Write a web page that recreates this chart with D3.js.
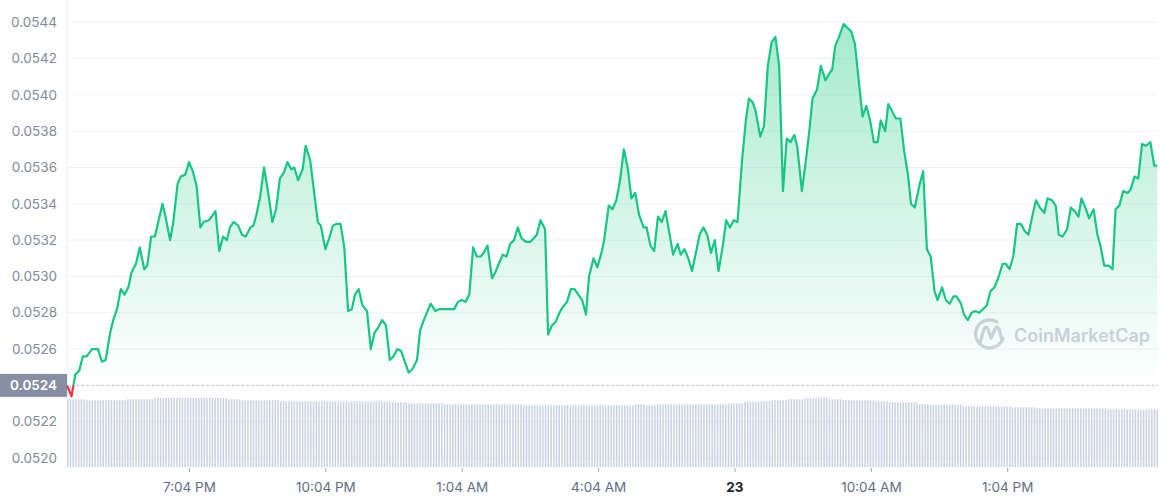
<!DOCTYPE html>
<html>
<head>
<meta charset="utf-8">
<script src="https://cdn.jsdelivr.net/npm/d3@7"></script>
<style>
	html, body { margin: 0; padding: 0; background: #fff; }
	#chart { width: 1160px; height: 500px; }
	text { font-family: Inter, "Noto Sans", sans-serif; }
</style>
</head>
<body>
<div id="chart"></div>
<script>
// minutes since the first sample (about 4:23 PM on the 22nd)
const minutes = [
	0, 6, 11, 16, 21, 26, 33, 41, 46, 51, 57, 61, 66, 71, 76, 81, 85, 91, 96, 102,
	106, 111, 116, 126, 130, 136, 140, 146, 150, 156, 161, 166, 171, 176, 180, 187, 191, 196, 201, 206,
	211, 215, 220, 226, 231, 236, 242, 246, 250, 255, 260, 266, 271, 276, 281, 286, 291, 296, 300, 305,
	311, 315, 321, 326, 331, 335, 341, 346, 351, 356, 361, 366, 371, 376, 380, 385, 390, 396, 401, 406,
	411, 416, 421, 426, 431, 436, 441, 446, 451, 456, 462, 466, 470, 476, 480, 486, 491, 496, 501, 506,
	511, 516, 521, 526, 531, 536, 541, 546, 550, 555, 561, 565, 570, 575, 580, 585, 590, 595, 600, 606,
	611, 616, 620, 625, 631, 635, 640, 645, 650, 654, 660, 665, 670, 675, 680, 685, 689, 695, 700, 706,
	709, 715, 720, 725, 730, 735, 740, 745, 750, 755, 761, 765, 770, 775, 780, 785, 790, 795, 800, 806,
	810, 815, 820, 825, 830, 835, 840, 845, 850, 855, 860, 866, 870, 875, 880, 885, 891, 896, 900, 905,
	909, 915, 920, 925, 930, 935, 940, 945, 950, 955, 960, 964, 970, 975, 980, 984, 990, 995, 1001, 1005,
	1010, 1014, 1019, 1025, 1030, 1035, 1040, 1045, 1050, 1055, 1060, 1065, 1070, 1074, 1080, 1084, 1089, 1094, 1100, 1105,
	1110, 1114, 1119, 1125, 1130, 1135, 1140, 1145, 1149, 1155, 1160, 1165, 1170, 1174, 1180, 1184, 1189, 1194, 1199, 1204,
	1209, 1214, 1219, 1224, 1229, 1235, 1239, 1244, 1249, 1254, 1259, 1264, 1269, 1274, 1279, 1284, 1290, 1294, 1300, 1305,
	1309, 1314, 1320, 1325, 1330, 1335, 1339, 1345, 1349, 1355, 1360, 1364, 1369, 1375, 1380, 1384, 1389, 1394, 1400, 1404,
	1409, 1414, 1419, 1424, 1430, 1435, 1439
];

// price in USD
const prices = [
	0.05240, 0.05234, 0.05246, 0.05248, 0.05256, 0.05256, 0.05260, 0.05260, 0.05253, 0.05254, 0.05269, 0.05276, 0.05282, 0.05293, 0.05290, 0.05294, 0.05302, 0.05307, 0.05316, 0.05304,
	0.05306, 0.05322, 0.05322, 0.05340, 0.05333, 0.05320, 0.05329, 0.05351, 0.05355, 0.05356, 0.05363, 0.05358, 0.05350, 0.05327, 0.05330, 0.05331, 0.05333, 0.05336, 0.05314, 0.05322,
	0.05320, 0.05327, 0.05330, 0.05328, 0.05323, 0.05322, 0.05327, 0.05328, 0.05334, 0.05344, 0.05360, 0.05345, 0.05330, 0.05337, 0.05354, 0.05357, 0.05363, 0.05359, 0.05360, 0.05353,
	0.05359, 0.05372, 0.05364, 0.05347, 0.05330, 0.05328, 0.05315, 0.05321, 0.05328, 0.05329, 0.05329, 0.05316, 0.05281, 0.05282, 0.05290, 0.05293, 0.05284, 0.05281, 0.05260, 0.05269,
	0.05272, 0.05276, 0.05273, 0.05254, 0.05256, 0.05260, 0.05259, 0.05253, 0.05247, 0.05249, 0.05254, 0.05270, 0.05275, 0.05281, 0.05285, 0.05281, 0.05282, 0.05282, 0.05282, 0.05282,
	0.05282, 0.05286, 0.05287, 0.05286, 0.05290, 0.05316, 0.05311, 0.05311, 0.05313, 0.05317, 0.05299, 0.05302, 0.05307, 0.05312, 0.05311, 0.05318, 0.05320, 0.05327, 0.05321, 0.05319,
	0.05319, 0.05321, 0.05323, 0.05331, 0.05326, 0.05268, 0.05273, 0.05275, 0.05280, 0.05283, 0.05286, 0.05293, 0.05293, 0.05290, 0.05287, 0.05279, 0.05300, 0.05310, 0.05305, 0.05314,
	0.05320, 0.05339, 0.05337, 0.05342, 0.05353, 0.05370, 0.05360, 0.05343, 0.05346, 0.05334, 0.05327, 0.05327, 0.05317, 0.05314, 0.05333, 0.05330, 0.05336, 0.05324, 0.05312, 0.05318,
	0.05312, 0.05315, 0.05310, 0.05303, 0.05313, 0.05323, 0.05327, 0.05323, 0.05313, 0.05320, 0.05303, 0.05318, 0.05331, 0.05327, 0.05331, 0.05330, 0.05364, 0.05386, 0.05398, 0.05396,
	0.05391, 0.05377, 0.05383, 0.05416, 0.05429, 0.05432, 0.05416, 0.05347, 0.05376, 0.05374, 0.05378, 0.05371, 0.05347, 0.05363, 0.05381, 0.05398, 0.05403, 0.05416, 0.05408, 0.05411,
	0.05414, 0.05427, 0.05432, 0.05439, 0.05437, 0.05435, 0.05428, 0.05408, 0.05388, 0.05394, 0.05386, 0.05374, 0.05374, 0.05386, 0.05380, 0.05395, 0.05391, 0.05387, 0.05387, 0.05369,
	0.05356, 0.05340, 0.05338, 0.05350, 0.05358, 0.05315, 0.05311, 0.05292, 0.05287, 0.05294, 0.05287, 0.05285, 0.05289, 0.05289, 0.05285, 0.05279, 0.05276, 0.05280, 0.05281, 0.05280,
	0.05282, 0.05284, 0.05292, 0.05294, 0.05299, 0.05307, 0.05307, 0.05304, 0.05311, 0.05329, 0.05329, 0.05325, 0.05323, 0.05333, 0.05342, 0.05338, 0.05335, 0.05343, 0.05342, 0.05339,
	0.05323, 0.05322, 0.05326, 0.05338, 0.05336, 0.05333, 0.05343, 0.05337, 0.05332, 0.05337, 0.05323, 0.05317, 0.05306, 0.05306, 0.05304, 0.05337, 0.05339, 0.05347, 0.05346, 0.05348,
	0.05355, 0.05354, 0.05373, 0.05372, 0.05374, 0.05361, 0.05361
];

// 24h volume bars (relative units)
const volumes = [
	6.77, 6.77, 6.77, 6.77, 6.77, 6.77, 6.77, 6.67, 6.67, 6.67, 6.67, 6.67, 6.67, 6.67, 6.67, 6.67, 6.67, 6.67, 6.67, 6.67,
	6.67, 6.67, 6.77, 6.77, 6.77, 6.77, 6.77, 6.77, 6.77, 6.77, 6.77, 6.77, 6.90, 6.90, 6.90, 6.90, 6.90, 6.90, 6.90, 6.90,
	6.90, 6.90, 6.90, 6.90, 6.90, 6.90, 6.90, 6.90, 6.90, 6.90, 6.90, 6.90, 6.90, 6.90, 6.90, 6.90, 6.90, 6.90, 6.90, 6.77,
	6.77, 6.77, 6.77, 6.77, 6.67, 6.67, 6.67, 6.67, 6.67, 6.67, 6.67, 6.67, 6.67, 6.67, 6.67, 6.67, 6.67, 6.67, 6.57, 6.57,
	6.57, 6.57, 6.57, 6.57, 6.57, 6.57, 6.57, 6.57, 6.57, 6.57, 6.57, 6.57, 6.57, 6.57, 6.57, 6.57, 6.57, 6.57, 6.57, 6.57,
	6.57, 6.57, 6.57, 6.47, 6.57, 6.57, 6.57, 6.57, 6.57, 6.57, 6.57, 6.57, 6.57, 6.57, 6.57, 6.57, 6.57, 6.57, 6.57, 6.47,
	6.47, 6.47, 6.47, 6.47, 6.47, 6.37, 6.37, 6.37, 6.37, 6.37, 6.37, 6.37, 6.37, 6.37, 6.37, 6.37, 6.37, 6.37, 6.27, 6.27,
	6.27, 6.27, 6.27, 6.27, 6.27, 6.27, 6.27, 6.27, 6.27, 6.27, 6.27, 6.27, 6.27, 6.27, 6.27, 6.27, 6.27, 6.27, 6.27, 6.27,
	6.27, 6.27, 6.27, 6.27, 6.27, 6.27, 6.27, 6.17, 6.17, 6.17, 6.17, 6.17, 6.17, 6.17, 6.17, 6.17, 6.17, 6.17, 6.17, 6.17,
	6.17, 6.17, 6.17, 6.17, 6.17, 6.17, 6.17, 6.17, 6.17, 6.17, 6.17, 6.17, 6.17, 6.17, 6.17, 6.17, 6.17, 6.17, 6.17, 6.17,
	6.17, 6.17, 6.17, 6.17, 6.17, 6.17, 6.17, 6.17, 6.27, 6.27, 6.27, 6.27, 6.17, 6.17, 6.17, 6.17, 6.27, 6.27, 6.27, 6.27,
	6.27, 6.27, 6.27, 6.27, 6.27, 6.27, 6.27, 6.27, 6.27, 6.27, 6.27, 6.27, 6.27, 6.27, 6.27, 6.27, 6.27, 6.27, 6.27, 6.27,
	6.27, 6.27, 6.37, 6.37, 6.37, 6.37, 6.37, 6.37, 6.53, 6.53, 6.53, 6.53, 6.53, 6.53, 6.57, 6.57, 6.57, 6.57, 6.67, 6.67,
	6.67, 6.67, 6.67, 6.67, 6.77, 6.77, 6.77, 6.77, 6.77, 6.77, 6.87, 6.87, 6.87, 6.87, 6.87, 6.87, 6.97, 6.97, 6.97, 6.77,
	6.77, 6.77, 6.77, 6.77, 6.67, 6.67, 6.67, 6.67, 6.67, 6.67, 6.67, 6.67, 6.67, 6.67, 6.67, 6.67, 6.57, 6.57, 6.57, 6.57,
	6.57, 6.47, 6.47, 6.47, 6.47, 6.47, 6.47, 6.47, 6.47, 6.47, 6.47, 6.47, 6.30, 6.30, 6.30, 6.30, 6.23, 6.23, 6.23, 6.23,
	6.23, 6.23, 6.23, 6.23, 6.23, 6.23, 6.23, 6.23, 6.07, 6.07, 6.07, 6.07, 6.07, 6.07, 6.07, 6.07, 6.07, 6.07, 6.07, 6.07,
	6.07, 6.07, 6.07, 6.07, 6.07, 6.07, 5.97, 5.97, 5.97, 5.97, 5.97, 5.97, 5.97, 5.97, 5.97, 5.87, 5.87, 5.87, 5.87, 5.87,
	5.87, 5.87, 5.87, 5.87, 5.87, 5.87, 5.87, 5.87, 5.87, 5.87, 5.87, 5.87, 5.87, 5.87, 5.87, 5.87, 5.87, 5.87, 5.87, 5.87,
	5.87, 5.77, 5.77, 5.77, 5.77, 5.77, 5.77, 5.77, 5.77, 5.77, 5.77, 5.77, 5.77, 5.77, 5.77, 5.77, 5.77, 5.77, 5.77, 5.77
];

const yTicks = [0.0520, 0.0522, 0.0524, 0.0526, 0.0528, 0.0530, 0.0532, 0.0534, 0.0536, 0.0538, 0.0540, 0.0542, 0.0544];
const xTickMinutes = [161, 341, 521, 701, 881, 1061, 1241];
const xTickLabels = ['7:04 PM', '10:04 PM', '1:04 AM', '4:04 AM', '23', '10:04 AM', '1:04 PM'];
const openPrice = 0.0524;

const width = 1160, height = 500;
const left = 67, right = 1158;

const svg = d3.select('#chart').append('svg')
	.attr('width', width)
	.attr('height', height);

const x = d3.scaleLinear()
	.domain([0, 1440])
	.range([left, right]);

const y = d3.scaleLinear()
	.domain([0.0520, 0.0544])
	.range([458, 22.3]);

const xb = d3.scaleBand()
	.domain(d3.range(volumes.length))
	.range([left, right])
	.paddingInner(0.45);

const yv = d3.scaleLinear()
	.domain([0, 7])
	.range([467, 397]);

const data = minutes.map((m, i) => ({ m, p: prices[i] }));
const base = y(openPrice);

// gradient + clips
const defs = svg.append('defs');
const grad = defs.append('linearGradient')
	.attr('id', 'greenFill')
	.attr('gradientUnits', 'userSpaceOnUse')
	.attr('x1', 0).attr('x2', 0)
	.attr('y1', y(0.0544)).attr('y2', base);
grad.append('stop').attr('offset', 0).attr('stop-color', '#16c784').attr('stop-opacity', 0.38);
grad.append('stop').attr('offset', 1).attr('stop-color', '#16c784').attr('stop-opacity', 0.0);

defs.append('clipPath').attr('id', 'above')
	.append('rect').attr('x', left).attr('y', 0).attr('width', right - left).attr('height', base);
defs.append('clipPath').attr('id', 'below')
	.append('rect').attr('x', left).attr('y', base).attr('width', right - left).attr('height', 60);

// grid
svg.append('g')
	.selectAll('line')
	.data(yTicks)
	.enter().append('line')
	.attr('x1', left).attr('x2', right)
	.attr('y1', d => y(d)).attr('y2', d => y(d))
	.attr('stroke', '#eff2f5')
	.attr('stroke-width', 1);

svg.append('line')
	.attr('x1', left + 0.5).attr('x2', left + 0.5)
	.attr('y1', 0).attr('y2', 467)
	.attr('stroke', '#eff2f5');

// volume bars
svg.append('g')
	.selectAll('rect')
	.data(volumes)
	.enter().append('rect')
	.attr('x', (d, i) => xb(i))
	.attr('y', d => yv(d))
	.attr('width', xb.bandwidth())
	.attr('height', d => yv(0) - yv(d))
	.attr('fill', '#cad1e3');

// watermark
const wm = svg.append('g').attr('fill', 'none').attr('stroke', '#cfd3de').attr('stroke-width', 3.2)
	.attr('stroke-linecap', 'round').attr('stroke-linejoin', 'round');
wm.append('path')
	.attr('d', 'M1003,338 A14,14 0 1 1 997,322');
wm.append('path')
	.attr('d', 'M980,343 L984,329 Q986,325 988,329 L991,338 L995,329 Q997,325 999,329 L1002,340');
svg.append('text')
	.attr('x', 1014).attr('y', 342)
	.attr('font-size', 18)
	.attr('font-weight', 600)
	.attr('fill', '#cfd3de')
	.attr('textLength', 136)
	.attr('lengthAdjust', 'spacingAndGlyphs')
	.text('CoinMarketCap');

// area + line above open
const area = d3.area()
	.x(d => x(d.m))
	.y0(base)
	.y1(d => y(d.p));

const line = d3.line()
	.x(d => x(d.m))
	.y(d => y(d.p));

svg.append('path')
	.datum(data)
	.attr('clip-path', 'url(#above)')
	.attr('fill', 'url(#greenFill)')
	.attr('d', area);

svg.append('path')
	.datum(data)
	.attr('clip-path', 'url(#below)')
	.attr('fill', 'rgba(234,57,67,0.15)')
	.attr('d', area);

// open price dotted line
svg.append('line')
	.attr('x1', left).attr('x2', right)
	.attr('y1', base).attr('y2', base)
	.attr('stroke', '#a6b0c3')
	.attr('stroke-width', 1)
	.attr('stroke-dasharray', '1.5,3.5');

svg.append('path')
	.datum(data)
	.attr('clip-path', 'url(#above)')
	.attr('fill', 'none')
	.attr('stroke', '#16c784')
	.attr('stroke-width', 2.2)
	.attr('stroke-linejoin', 'round')
	.attr('d', line);

svg.append('path')
	.datum(data)
	.attr('clip-path', 'url(#below)')
	.attr('fill', 'none')
	.attr('stroke', '#ea3943')
	.attr('stroke-width', 2.2)
	.attr('stroke-linejoin', 'round')
	.attr('d', line);

// y labels
const yLab = svg.append('g');
yLab.append('rect')
	.attr('x', 0).attr('y', base - 11.5)
	.attr('width', left).attr('height', 23)
	.attr('fill', '#868ea3');

yLab.selectAll('text')
	.data(yTicks)
	.enter().append('text')
	.attr('x', 57)
	.attr('y', d => y(d))
	.attr('dy', '0.35em')
	.attr('text-anchor', 'end')
	.attr('font-size', 13.5)
	.attr('fill', d => d === openPrice ? '#ffffff' : '#808a9d')
	.attr('font-weight', d => d === openPrice ? 600 : 400)
	.text(d => d.toFixed(4));

// x axis
const xAxis = d3.axisBottom(x)
	.tickValues(xTickMinutes)
	.tickSize(4)
	.tickPadding(10)
	.tickFormat((d, i) => xTickLabels[i]);

const gx = svg.append('g')
	.attr('transform', 'translate(0,468)')
	.call(xAxis);
gx.select('.domain').remove();
gx.selectAll('line').attr('stroke', '#9aa3b5');
gx.selectAll('text')
	.attr('font-family', 'Inter, "Noto Sans", sans-serif')
	.attr('font-size', 13.5)
	.attr('fill', (d, i) => xTickLabels[i] === '23' ? '#222531' : '#616e85')
	.attr('font-weight', (d, i) => xTickLabels[i] === '23' ? 700 : 400);
</script>
</body>
</html>
